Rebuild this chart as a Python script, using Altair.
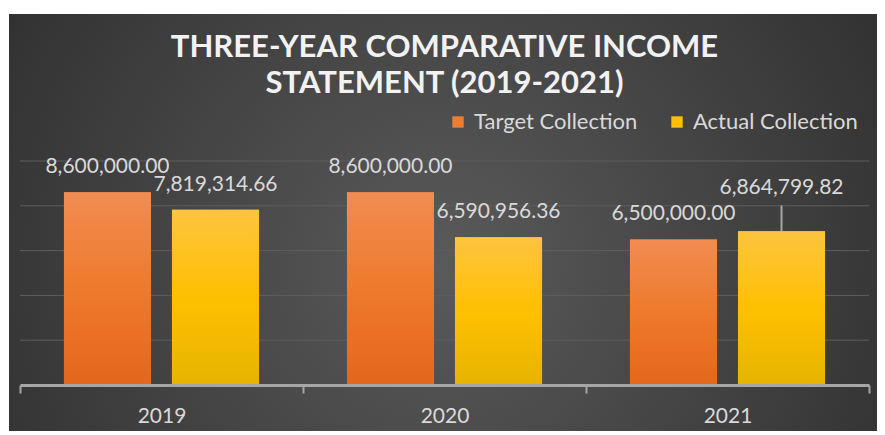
import altair as alt
import pandas as pd

years = ["2019", "2020", "2021"]
series = ["Target Collection", "Actual Collection"]
target = [8600000.00, 8600000.00, 6500000.00]
actual = [7819314.66, 6590956.36, 6864799.82]
grid_values = [2000000, 4000000, 6000000, 8000000, 10000000]

rows = []
for i, y in enumerate(years):
    rows.append({"year": y, "series": series[0], "value": target[i]})
    rows.append({"year": y, "series": series[1], "value": actual[i]})
df = pd.DataFrame(rows)
grid_df = pd.DataFrame({"g": grid_values})
bg_df = pd.DataFrame({"bg": [0]})

W, H = 849, 224
FONT = "Lato"
colors = ["#ED7D31", "#FFC000"]

x_enc = alt.X("year:N", sort=years,
              scale=alt.Scale(paddingInner=0, paddingOuter=0),
              axis=alt.Axis(title=None, labelFont=FONT, labelFontSize=21,
                            labelColor="#d9d9d9", labelPadding=12,
                            domainColor="#a6a6a6", domainWidth=3,
                            tickColor="#a6a6a6", tickWidth=2, tickSize=8,
                            tickBand="extent", grid=False, labelAngle=0,
                            zindex=1))
xo_enc = alt.XOffset("series:N", sort=series,
                     scale=alt.Scale(paddingInner=0.194, paddingOuter=0.407))
y_scale = alt.Scale(domain=[0, 10000000])
y_enc = alt.Y("value:Q", scale=y_scale, axis=None)

bg = alt.Chart(bg_df).mark_rect(
    fill=alt.Gradient(gradient="radial",
                      stops=[alt.GradientStop(color="#5a5a5a", offset=0),
                             alt.GradientStop(color="#262626", offset=1)],
                      x1=0.5, y1=0.55, r1=0, x2=0.5, y2=0.55, r2=0.75)
).encode(x=alt.value(-11), x2=alt.value(W + 8),
         y=alt.value(-147), y2=alt.value(H + 46))

grid = alt.Chart(grid_df).mark_rule(color="#5e5e5e", strokeWidth=1).encode(
    y=alt.Y("g:Q", scale=y_scale, axis=None),
    x=alt.value(0), x2=alt.value(W))

base = alt.Chart(df).encode(x=x_enc, xOffset=xo_enc, y=y_enc)

bars_legend = base.mark_bar().encode(
    color=alt.Color("series:N", sort=series,
                    scale=alt.Scale(domain=series, range=colors),
                    legend=alt.Legend(title=None, orient="none", direction="horizontal",
                                      legendX=427, legendY=-50,
                                      symbolType="square", symbolSize=130,
                                      symbolStrokeWidth=0, labelFont=FONT,
                                      labelFontSize=22, labelColor="#d9d9d9",
                                      labelOffset=5, columnPadding=28,
                                      labelLimit=300)))

def grad(c0, c1, c2):
    return alt.Gradient(gradient="linear",
                        stops=[alt.GradientStop(color=c0, offset=0),
                               alt.GradientStop(color=c1, offset=0.5),
                               alt.GradientStop(color=c2, offset=1)],
                        x1=0, y1=0, x2=0, y2=1)

bars_t = base.transform_filter(alt.datum.series == series[0]).mark_bar(
    fill=grad("#F18C52", "#EE7A2B", "#E4671A"))
bars_a = base.transform_filter(alt.datum.series == series[1]).mark_bar(
    fill=grad("#FDC440", "#FFC000", "#E6B400"))

labels = base.transform_calculate(
    lift="datum.year == '2021' && datum.series == 'Actual Collection' ? 800000 : 0",
    ly="datum.value + datum.lift",
    lbl="format(datum.value, ',.2f')"
).mark_text(font=FONT, fontSize=21, color="#d9d9d9", baseline="alphabetic",
            dy=-19).encode(y=alt.Y("ly:Q", scale=y_scale, axis=None),
                           text="lbl:N")

leader = base.transform_filter(
    "datum.year == '2021' && datum.series == 'Actual Collection'"
).transform_calculate(
    top="datum.value + 1150000"
).mark_rule(color="#a6a6a6", strokeWidth=2).encode(
    y2=alt.Y2("top:Q"))

chart = alt.layer(bg, grid, bars_legend, bars_t, bars_a, leader, labels).properties(
    width=W, height=H,
    autosize=alt.AutoSizeParams(type="none"),
    padding={"left": 12, "top": 153, "right": 8, "bottom": 46},
    background="white",
    title=alt.TitleParams(
        text=["THREE-YEAR COMPARATIVE INCOME", "STATEMENT (2019-2021)"],
        font=FONT, fontSize=31, fontWeight="bold", color="#f2f2f2",
        anchor="middle", lineHeight=36, offset=-86)
).configure_view(stroke=None)

chart.save("out.html", embed_options={"renderer": "svg", "actions": False})
